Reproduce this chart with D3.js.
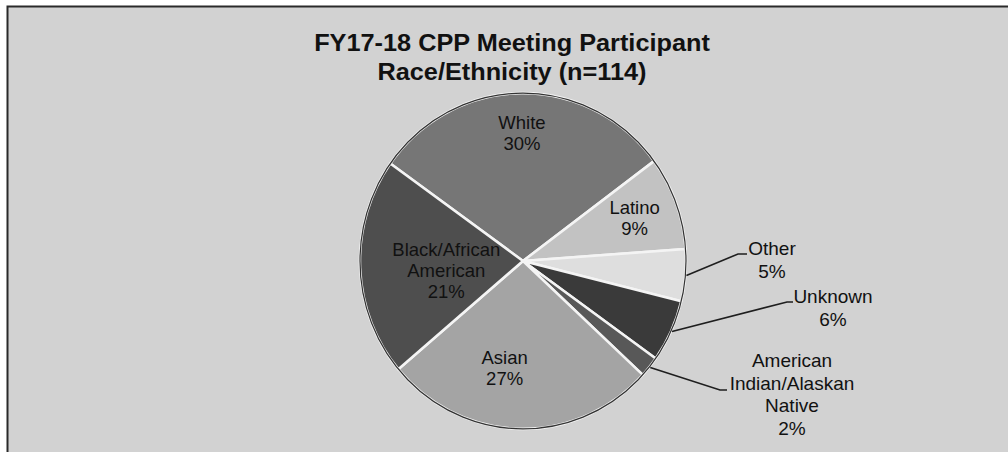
<!DOCTYPE html>
<html>
<head>
<meta charset="utf-8">
<script src="https://cdn.jsdelivr.net/npm/d3@7"></script>
<style>
    html, body { margin: 0; padding: 0; background: #fff; }
    svg { display: block; }
    text { font-family: "Liberation Sans", Arial, sans-serif; fill: #111; }
</style>
</head>
<body>
<svg id="chart" width="1008" height="452"></svg>
<script>
(function() {

// data
const categories = ["White", "Latino", "Other", "Unknown",
    "American Indian/Alaskan Native", "Asian", "Black/African American"];
const percents = [30, 9, 5, 6, 2, 27, 21];
const labelLines = [
    ["White"], ["Latino"], ["Other"], ["Unknown"],
    ["American", "Indian/Alaskan", "Native"], ["Asian"], ["Black/African", "American"]
];
const titleLines = ["FY17-18 CPP Meeting Participant", "Race/Ethnicity (n=114)"];

// look
const fills = ["#767676", "#c2c2c2", "#dedede", "#3a3a3a", "#585858", "#a4a4a4", "#4e4e4e"];

const svg = d3.select("#chart")
    , width = 1008
    , height = 452
    , cx = 523
    , cy = 261
    , radius = 163
    , squash = 1.03
    , startAngle = -54.5 * Math.PI / 180;

// inside labels: radius fraction + nudge ; outside: elbow + text anchor
const inside = {
    0: { r: 0.76, dx: 0, dy: 0 },
    1: { r: 0.73, dx: 0, dy: 0 },
    5: { r: 0.64, dx: -16, dy: 0 },
    6: { r: 0.52, dx: 8, dy: 6 }
};
const outside = {
    2: { elbow: [738, 254], end: [747, 254], text: [772, 255] },
    3: { elbow: [787, 302], end: [793, 302], text: [833, 303] },
    4: { elbow: [720, 390], end: [727, 390], text: [792, 367] }
};

drawBackground();
drawTitle();
drawPie();

/**
 * Grey panel and its frame
 */

function drawBackground() {
    svg.append("rect")
        .attr("x", 7).attr("y", 6)
        .attr("width", width - 7).attr("height", height - 6)
        .attr("fill", "#d2d2d2");

    svg.append("path")
        .attr("d", "M7.5," + height + "V6.5H" + width)
        .attr("fill", "none")
        .attr("stroke", "#2a2a2a")
        .attr("stroke-width", 2);
}

function drawTitle() {
    const title = svg.append("g")
        .attr("transform", "translate(512,0) scale(1.1,1)");

    title.selectAll("text")
        .data(titleLines)
        .enter().append("text")
        .attr("x", 0)
        .attr("y", (d, i) => 51 + i * 29)
        .attr("text-anchor", "middle")
        .attr("font-size", 23)
        .attr("font-weight", "bold")
        .text((d) => d);
}

/**
 * Slices, labels and leader lines
 */

function drawPie() {
    const pie = d3.pie()
        .sort(null)
        .value((d) => d)
        .startAngle(startAngle)
        .endAngle(startAngle + 2 * Math.PI);

    const arcs = pie(percents);

    const arc = d3.arc()
        .innerRadius(0)
        .outerRadius(radius);

    const g = svg.append("g")
        .attr("transform", "translate(" + cx + "," + cy + ") scale(1," + squash + ")");

    g.selectAll("path.slice")
        .data(arcs)
        .enter().append("path")
        .attr("class", "slice")
        .attr("d", arc)
        .attr("fill", (d, i) => fills[i])
        .attr("stroke", "#f4f4f4")
        .attr("stroke-width", 2.5)
        .attr("stroke-linejoin", "round");

    // thin dark rim
    g.append("circle")
        .attr("r", radius)
        .attr("fill", "none")
        .attr("stroke", "#333")
        .attr("stroke-width", 1.2);

    const polar = (a, r) => [cx + r * Math.sin(a), cy - r * Math.cos(a) * squash];

    // inside labels
    arcs.forEach(function(d, i) {
        if (!inside[i]) { return; }
        const mid = (d.startAngle + d.endAngle) / 2
            , p = polar(mid, radius * inside[i].r)
            , lines = labelLines[i].concat([percents[i] + "%"])
            , x = p[0] + inside[i].dx
            , y0 = p[1] + inside[i].dy - (lines.length - 1) * 21 / 2 + 6;

        const t = svg.append("text")
            .attr("text-anchor", "middle")
            .attr("font-size", 18.5);

        lines.forEach(function(line, k) {
            t.append("tspan")
                .attr("x", x)
                .attr("y", y0 + k * 21)
                .text(line);
        });
    });

    // outside labels with leaders
    arcs.forEach(function(d, i) {
        if (!outside[i]) { return; }
        const o = outside[i]
            , mid = (d.startAngle + d.endAngle) / 2
            , p = polar(mid, radius + 1);

        svg.append("polyline")
            .attr("points", [p, o.elbow, o.end].map((q) => q.join(",")).join(" "))
            .attr("fill", "none")
            .attr("stroke", "#1e1e1e")
            .attr("stroke-width", 1.6);

        const lines = labelLines[i].concat([percents[i] + "%"]);
        const t = svg.append("text")
            .attr("text-anchor", "middle")
            .attr("font-size", 19);

        lines.forEach(function(line, k) {
            t.append("tspan")
                .attr("x", o.text[0])
                .attr("y", o.text[1] + k * 22.5)
                .text(line);
        });
    });
}

})();
</script>
</body>
</html>
